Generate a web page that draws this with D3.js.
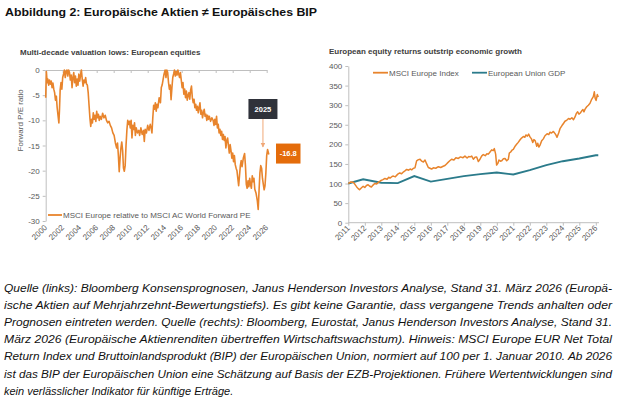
<!DOCTYPE html>
<html>
<head>
<meta charset="utf-8">
<script src="https://cdn.jsdelivr.net/npm/d3@7"></script>
<style>
  body { margin: 0; background: #fff; }
  text { font-family: "Liberation Sans", Arial, sans-serif; }
  .axis path, .axis line { stroke: #bfbfbf; }
  .axis text { fill: #595959; font-size: 8px; font-family: "Liberation Sans", Arial, sans-serif; }
</style>
</head>
<body>
<svg id="fig"></svg>
<script>
// ---- data: left chart (MSCI Europe relative to MSCI AC World forward PE)
var peYears = [2000.00,2000.08,2000.17,2000.25,2000.35,2000.45,2000.55,2000.65,2000.75,2000.85,2000.95,
  2001.05,2001.15,2001.25,2001.35,2001.45,2001.55,2001.62,2001.70,2001.80,2001.90,
  2002.00,2002.10,2002.20,2002.30,2002.40,2002.50,2002.60,2002.70,2002.80,2002.90,
  2003.00,2003.10,2003.20,2003.30,2003.40,2003.50,2003.60,2003.70,2003.80,2003.90,
  2004.00,2004.10,2004.20,2004.30,2004.40,2004.50,2004.60,2004.70,2004.80,2004.90,
  2005.00,2005.10,2005.20,2005.30,2005.40,2005.50,2005.60,2005.70,2005.80,2005.90,
  2006.00,2006.10,2006.20,2006.30,2006.40,2006.55,2006.70,2006.85,
  2007.00,2007.15,2007.30,2007.45,2007.60,2007.75,2007.90,
  2008.05,2008.20,2008.35,2008.45,2008.55,2008.65,2008.75,2008.85,2008.95,
  2009.05,2009.15,2009.25,2009.35,2009.45,2009.55,2009.65,2009.75,2009.85,2009.95,
  2010.05,2010.15,2010.25,2010.35,2010.45,2010.55,2010.65,2010.80,2010.95,
  2011.05,2011.20,2011.35,2011.50,2011.60,2011.70,2011.85,
  2012.00,2012.15,2012.30,2012.40,2012.50,2012.60,2012.70,2012.80,2012.90,
  2013.00,2013.10,2013.20,2013.35,2013.50,2013.60,2013.70,2013.80,2013.90,
  2014.05,2014.15,2014.25,2014.35,2014.45,2014.55,2014.65,2014.75,2014.85,2014.95,
  2015.05,2015.15,2015.25,2015.35,2015.45,2015.55,2015.65,2015.75,2015.85,2015.95,
  2016.05,2016.15,2016.25,2016.35,2016.45,2016.55,2016.65,2016.75,2016.85,2016.95,
  2017.05,2017.15,2017.25,2017.35,2017.45,2017.55,2017.65,2017.75,2017.85,2017.95,
  2018.05,2018.15,2018.25,2018.35,2018.45,2018.55,2018.65,2018.75,2018.85,2018.95,
  2019.05,2019.15,2019.25,2019.40,2019.55,2019.70,2019.80,2019.90,
  2020.00,2020.10,2020.20,2020.30,2020.40,2020.50,2020.60,2020.70,2020.80,2020.90,
  2021.00,2021.10,2021.20,2021.30,2021.40,2021.50,2021.60,2021.70,2021.80,2021.90,
  2022.00,2022.10,2022.20,2022.30,2022.40,2022.50,2022.60,2022.70,2022.80,2022.90,
  2023.00,2023.10,2023.25,2023.40,2023.50,2023.60,2023.70,2023.80,2023.90,
  2024.00,2024.10,2024.20,2024.30,2024.40,2024.50,2024.60,2024.75,2024.90,
  2025.00,2025.10,2025.20,2025.30,2025.40,2025.50,2025.60,2025.70,2025.80,2025.90,
  2026.00,2026.10,2026.25];
var peValues = [-5.5,-0.3,-2.5,-1.8,-3.0,-2.0,-2.8,-2.2,-3.5,-2.6,-3.8,
  -4.5,-6.0,-5.2,-7.5,-9.0,-10.5,-8.0,-4.0,-2.5,-3.8,
  -1.5,-0.8,0,-1.5,-0.3,0,-1.2,0,-0.5,-2.0,
  -1.0,-3.5,-1.5,-0.5,-2.5,-1.2,-3.2,-1.8,-3.0,-0.8,
  -2.2,-1.0,0,-1.8,-3.2,-2.0,-2.5,-1.5,-2.8,-3.0,
  -4.5,-7.0,-9.5,-11.2,-9.8,-10.5,-8.5,-9.8,-9.0,-10.2,
  -8.2,-9.5,-8.8,-10.0,-9.2,-9.8,-8.6,-9.5,
  -9.0,-10.0,-10.5,-10.2,-11.0,-11.5,-12.5,
  -13.0,-14.5,-15.5,-14.5,-17.0,-20.2,-17.5,-15.5,-14.3,
  -16.0,-19.5,-20.1,-19.0,-15.0,-12.0,-10.0,-10.8,-10.2,-11.5,
  -10.0,-13.5,-11.0,-11.8,-10.5,-13.0,-11.5,-12.5,-12.0,
  -13.0,-11.5,-12.8,-12.0,-14.2,-11.8,-12.5,
  -11.0,-12.0,-10.8,-11.5,-12.5,-9.5,-7.0,-7.8,-6.5,
  -8.2,-6.8,-7.5,-5.5,-6.5,-3.5,-3.0,-2.0,-1.0,
  0,-1.5,0,-0.5,-2.5,-3.8,-3.0,-5.9,-3.5,-1.5,
  -0.8,0,-1.2,-0.3,-1.0,0,-0.8,-1.5,-0.5,-2.0,
  -3.5,-2.5,-4.8,-3.8,-5.5,-4.2,-6.0,-5.0,-4.5,-5.8,
  -4.0,-3.2,-5.5,-6.5,-5.8,-7.5,-6.8,-8.0,-7.2,-8.5,
  -7.5,-6.5,-8.8,-8.0,-9.5,-8.5,-7.8,-9.2,-8.8,-10.0,
  -9.0,-9.8,-9.2,-10.2,-9.5,-10.0,-11.0,-9.8,
  -10.8,-9.2,-11.5,-10.8,-12.5,-11.8,-13.0,-12.2,-13.8,-12.8,
  -14.0,-13.2,-15.5,-14.0,-13.5,-15.0,-16.5,-14.8,-16.0,-17.5,
  -16.5,-18.2,-17.0,-18.8,-19.5,-20.0,-21.5,-23.0,-21.0,-19.0,
  -18.0,-19.2,-17.5,-16.6,-19.0,-22.7,-23.5,-22.0,-23.2,
  -21.5,-22.8,-23.5,-21.0,-22.2,-21.5,-23.7,-24.5,-26.0,
  -27.7,-24.0,-20.5,-19.0,-19.5,-21.5,-22.7,-23.8,-23.0,-20.5,
  -17.0,-15.8,-16.8];
var peYTicks = [0, -5, -10, -15, -20, -25, -30];
var peYearTicks = [2000,2002,2004,2006,2008,2010,2012,2014,2016,2018,2020,2022,2024,2026];
var peMarkerLabel = "2025";
var peMarkerYear = 2025.5;
var peLastLabel = "-16.8";

// ---- data: right chart (indexed, 100 = start)
var msciYears = [2011.00,2011.15,2011.30,2011.40,2011.50,2011.60,2011.68,2011.80,2011.90,
  2012.00,2012.10,2012.20,2012.30,2012.40,2012.50,2012.60,2012.72,2012.82,2012.95,
  2013.10,2013.22,2013.35,2013.45,2013.53,2013.65,2013.73,2013.85,
  2014.00,2014.12,2014.23,2014.35,2014.45,2014.54,2014.65,2014.75,2014.84,2014.95,
  2015.04,2015.14,2015.25,2015.35,2015.45,2015.55,2015.65,2015.75,2015.85,2015.95,
  2016.05,2016.15,2016.30,2016.46,2016.60,2016.75,2016.86,
  2017.00,2017.15,2017.26,2017.40,2017.52,2017.67,2017.80,2017.95,
  2018.07,2018.20,2018.30,2018.38,2018.48,2018.58,2018.68,2018.78,2018.88,2018.98,
  2019.08,2019.18,2019.30,2019.40,2019.49,2019.60,2019.69,2019.78,2019.85,2019.93,2019.99,
  2020.07,2020.13,2020.22,2020.30,2020.40,2020.50,2020.60,2020.70,2020.76,2020.85,2020.92,
  2021.00,2021.12,2021.20,2021.30,2021.40,2021.50,2021.61,2021.70,2021.76,2021.85,2021.93,
  2022.01,2022.10,2022.18,2022.25,2022.33,2022.42,2022.48,2022.55,2022.62,2022.72,2022.82,2022.92,
  2023.05,2023.15,2023.22,2023.32,2023.43,2023.52,2023.58,2023.65,2023.75,2023.83,2023.95,
  2024.05,2024.13,2024.25,2024.35,2024.44,2024.55,2024.65,2024.74,2024.82,2024.90,2024.98,
  2025.06,2025.14,2025.22,2025.28,2025.35,2025.45,2025.55,2025.65,2025.75,2025.85,2025.91,2025.96,
  2026.02,2026.09,2026.15];
var msciValues = [100,104,103,98,92,87,84,89,93,
  90,95,97,93,91,96,100,99,103,107,
  110,113,111,116,114,118,119,117,
  124,127,125,130,133,136,134,137,135,139,
  140,158,161,162,157,155,160,150,141,139,
  137,140,139,143,141,144,146,
  152,158,162,160,166,164,168,166,
  170,165,169,168,170,162,167,168,156,162,
  170,174,171,176,175,181,186,184,189,175,147,
  152,160,157,158,163,164,158,162,178,181,185,
  187,196,200,205,211,216,220,218,224,221,226,
  219,214,205,212,209,195,203,193,198,209,214,222,
  227,225,231,229,233,228,224,218,229,240,248,
  254,259,262,266,264,268,263,270,279,283,277,
  280,285,289,283,290,296,300,305,315,322,334,318,
  312,327,321];
var gdpYears  = [2011, 2011.9, 2013, 2014, 2015, 2016, 2017, 2018, 2019, 2020, 2021, 2022, 2023, 2024, 2025, 2026, 2026.15];
var gdpValues = [100, 111, 102, 101, 119, 105, 112, 119, 124, 128, 123, 134, 147, 157, 164, 172, 172];
var idxYTicks = [0, 50, 100, 150, 200, 250, 300, 350, 400];
var idxYearTicks = d3.range(2011, 2027);
var seriesNames = ["MSCI Europe Index", "European Union GDP"];

// ---- text
var figTitle = "Abbildung 2: Europäische Aktien \u2260 Europäisches BIP";
var leftTitle = "Multi-decade valuation lows: European equities";
var rightTitle = "European equity returns outstrip economic growth";
var leftLegend = "MSCI Europe relative to MSCI AC World Forward PE";
var leftYTitle = "Forward P/E ratio";
var captionLines = [
  "Quelle (links): Bloomberg Konsensprognosen, Janus Henderson Investors Analyse, Stand 31. März 2026 (Europä-",
  "ische Aktien auf Mehrjahrzehnt-Bewertungstiefs). Es gibt keine Garantie, dass vergangene Trends anhalten oder",
  "Prognosen eintreten werden. Quelle (rechts): Bloomberg, Eurostat, Janus Henderson Investors Analyse, Stand 31.",
  "März 2026 (Europäische Aktienrenditen übertreffen Wirtschaftswachstum). Hinweis: MSCI Europe EUR Net Total",
  "Return Index und Bruttoinlandsprodukt (BIP) der Europäischen Union, normiert auf 100 per 1. Januar 2010. Ab 2026",
  "ist das BIP der Europäischen Union eine Schätzung auf Basis der EZB-Projektionen. Frühere Wertentwicklungen sind",
  "kein verlässlicher Indikator für künftige Erträge."
];

var ORANGE = "#e8842c", TEAL = "#2b7b8b", GREY = "#595959";

var svg = d3.select("#fig").attr("width", 625).attr("height", 409);

svg.append("text")
    .attr("x", 5).attr("y", 16)
    .attr("textLength", 312).attr("lengthAdjust", "spacingAndGlyphs")
    .style("font-weight", "bold").style("font-size", "11.5px").style("fill", "#111")
    .text(figTitle);

// ================= left chart =================
var xL = d3.scaleLinear().domain([2000, 2026]).range([45.7, 266.7]);
var yL = d3.scaleLinear().domain([0, -30]).range([70, 221]);

svg.append("text").attr("x", 20).attr("y", 54.5)
    .style("font-size", "8px").style("font-weight", "bold").style("fill", "#404040")
    .text(leftTitle);

svg.append("g").attr("class", "axis")
    .attr("transform", "translate(" + xL(2000) + ",0)")
    .call(d3.axisLeft(yL).tickValues(peYTicks).tickSize(3).tickSizeOuter(0).tickPadding(3)
      .tickFormat(function(d) { return String(d); }));

svg.append("g").attr("class", "axis")
    .attr("transform", "translate(0," + yL(0) + ")")
    .call(d3.axisBottom(xL).tickValues(peYearTicks).tickSize(3).tickSizeOuter(0).tickFormat(""));

svg.append("g").selectAll("text").data(peYearTicks).enter().append("text")
    .attr("transform", function(d) { return "translate(" + (xL(d) + 2) + "," + (yL(-30) + 7) + ") rotate(-45)"; })
    .attr("text-anchor", "end")
    .style("font-size", "8px").style("fill", GREY)
    .text(function(d) { return d; });

svg.append("text")
    .attr("transform", "translate(23," + yL(-10) + ") rotate(-90)")
    .attr("text-anchor", "middle")
    .style("font-size", "8px").style("fill", GREY)
    .text(leftYTitle);

var peLine = d3.line()
    .x(function(d, i) { return xL(peYears[i]); })
    .y(function(d) { return yL(d); });

svg.append("path").datum(peValues)
    .attr("d", peLine)
    .attr("fill", "none").attr("stroke", ORANGE)
    .attr("stroke-width", 1.6).attr("stroke-linejoin", "round");

// legend
svg.append("line").attr("x1", 48).attr("x2", 62).attr("y1", 215).attr("y2", 215)
    .attr("stroke", ORANGE).attr("stroke-width", 1.8);
svg.append("text").attr("x", 63).attr("y", 217.8)
    .style("font-size", "8px").style("fill", GREY).text(leftLegend);

// annotation
var defs = svg.append("defs");
defs.append("marker").attr("id", "arr")
    .attr("viewBox", "0 0 10 10").attr("refX", 9).attr("refY", 5)
    .attr("markerWidth", 5).attr("markerHeight", 5).attr("orient", "auto")
  .append("path").attr("d", "M0,0L10,5L0,10z").attr("fill", "#f0a878");

var ax = xL(peMarkerYear);
svg.append("rect").attr("x", ax - 14).attr("y", 99).attr("width", 29).attr("height", 20)
    .attr("fill", "#2f323a");
svg.append("text").attr("x", ax + 0.5).attr("y", 111.8).attr("text-anchor", "middle")
    .style("font-size", "7.5px").style("font-weight", "bold").style("fill", "#fff")
    .text(peMarkerLabel);
svg.append("line").attr("x1", ax + 0.5).attr("x2", ax + 0.5).attr("y1", 119).attr("y2", 147)
    .attr("stroke", "#f0a878").attr("stroke-width", 1).attr("marker-end", "url(#arr)");

var lastY = yL(peValues[peValues.length - 1]);
svg.append("rect").attr("x", 276).attr("y", lastY - 11).attr("width", 24.5).attr("height", 20)
    .attr("fill", "#e46c0a");
svg.append("text").attr("x", 288.2).attr("y", lastY + 1.6).attr("text-anchor", "middle")
    .style("font-size", "7.5px").style("font-weight", "bold").style("fill", "#fff")
    .text(peLastLabel);

// ================= right chart =================
var xR = d3.scaleLinear().domain([2011, 2026]).range([348.3, 595.8]);
var yR = d3.scaleLinear().domain([0, 400]).range([222.7, 66]);

svg.append("text").attr("x", 329).attr("y", 54)
    .style("font-size", "8px").style("font-weight", "bold").style("fill", "#404040")
    .text(rightTitle);

svg.append("g").attr("class", "axis")
    .attr("transform", "translate(" + xR(2011) + ",0)")
    .call(d3.axisLeft(yR).tickValues(idxYTicks).tickSize(3).tickSizeOuter(0).tickPadding(3));

svg.append("g").attr("class", "axis")
    .attr("transform", "translate(0," + yR(0) + ")")
    .call(d3.axisBottom(xR).tickValues(idxYearTicks).tickSize(3).tickSizeOuter(0).tickFormat(""))
  .select(".domain").attr("d", "M" + xR(2011) + ",0H" + 599);

svg.append("g").selectAll("text").data(idxYearTicks).enter().append("text")
    .attr("transform", function(d) { return "translate(" + (xR(d) + 2) + "," + (yR(0) + 6) + ") rotate(-45)"; })
    .attr("text-anchor", "end")
    .style("font-size", "8px").style("fill", GREY)
    .text(function(d) { return d; });

var lineR = function(years) {
  return d3.line()
    .x(function(d, i) { return xR(years[i]); })
    .y(function(d) { return yR(d); });
};

svg.append("path").datum(gdpValues)
    .attr("d", lineR(gdpYears))
    .attr("fill", "none").attr("stroke", TEAL).attr("stroke-width", 1.9);

svg.append("path").datum(msciValues)
    .attr("d", lineR(msciYears))
    .attr("fill", "none").attr("stroke", ORANGE)
    .attr("stroke-width", 1.5).attr("stroke-linejoin", "round");

// legend
var legR = [{x: 373, c: ORANGE}, {x: 472, c: TEAL}];
legR.forEach(function(l, i) {
  svg.append("line").attr("x1", l.x).attr("x2", l.x + 15).attr("y1", 72.7).attr("y2", 72.7)
      .attr("stroke", l.c).attr("stroke-width", 1.8);
  svg.append("text").attr("x", l.x + 16).attr("y", 75.5)
      .style("font-size", "8px").style("fill", GREY).text(seriesNames[i]);
});

// ================= caption =================
svg.append("g").selectAll("text").data(captionLines).enter().append("text")
    .attr("x", 4)
    .attr("y", function(d, i) { return 291.5 + i * 17.2; })
    .attr("textLength", function(d, i) { return i < captionLines.length - 1 ? 608 : null; })
    .attr("lengthAdjust", "spacingAndGlyphs")
    .style("font-size", "11px").style("font-style", "italic").style("fill", "#111")
    .text(function(d) { return d; });
</script>
</body>
</html>
